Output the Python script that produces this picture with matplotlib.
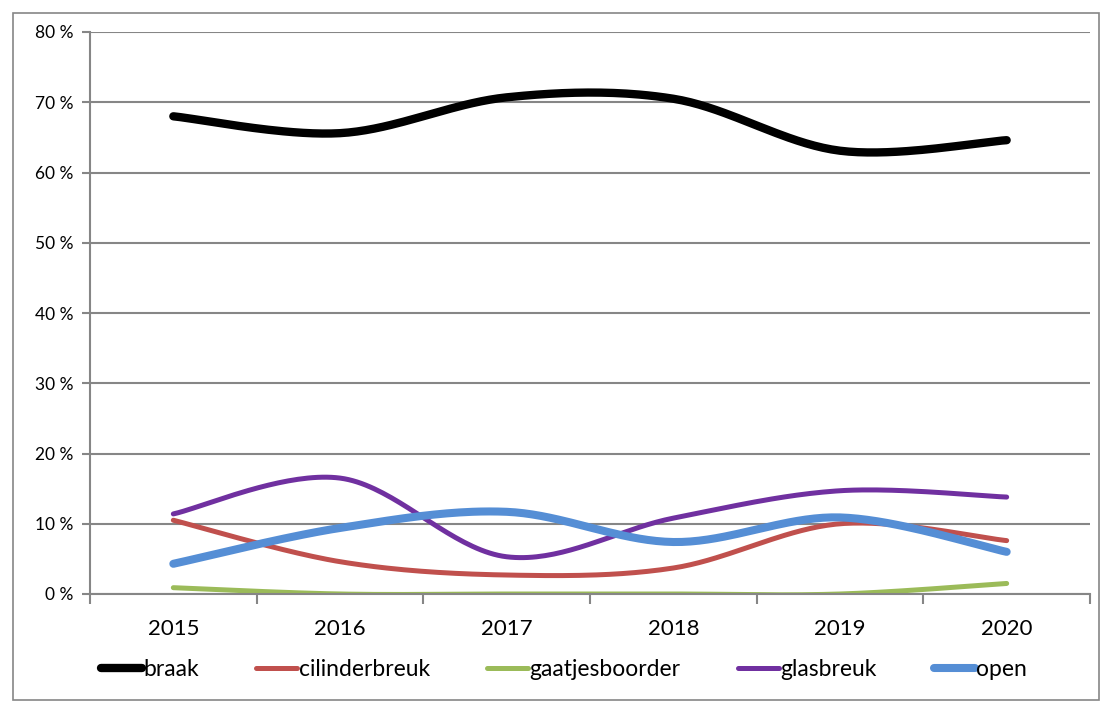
import numpy as np
import matplotlib.pyplot as plt
from matplotlib.patches import Rectangle

plt.rcParams['font.family'] = ['Lato', 'DejaVu Sans']

years = ["2015", "2016", "2017", "2018", "2019", "2020"]
braak = [68.0, 65.6, 70.7, 70.5, 63.1, 64.6]
cilinderbreuk = [10.5, 4.6, 2.7, 3.7, 10.0, 7.6]
gaatjesboorder = [0.9, 0.0, 0.0, 0.0, 0.0, 1.5]
glasbreuk = [11.4, 16.5, 5.3, 10.8, 14.7, 13.8]
open_ = [4.3, 9.4, 11.7, 7.4, 10.9, 6.0]

series = [
    ("braak", braak, "#000000", 6.0),
    ("cilinderbreuk", cilinderbreuk, "#C0504D", 3.6),
    ("gaatjesboorder", gaatjesboorder, "#9BBB59", 3.6),
    ("glasbreuk", glasbreuk, "#7030A0", 3.6),
    ("open", open_, "#558ED5", 5.8),
]


def smooth(y, n=40):
    # excel style smoothing: bezier with catmull-rom control points
    y = np.asarray(y, float)
    x = np.arange(len(y), dtype=float)
    xs, ys = [], []
    for i in range(len(y) - 1):
        p0 = (x[max(i - 1, 0)], y[max(i - 1, 0)])
        p1 = (x[i], y[i])
        p2 = (x[i + 1], y[i + 1])
        p3 = (x[min(i + 2, len(y) - 1)], y[min(i + 2, len(y) - 1)])
        c1 = (p1[0] + (p2[0] - p0[0]) / 6, p1[1] + (p2[1] - p0[1]) / 6)
        c2 = (p2[0] - (p3[0] - p1[0]) / 6, p2[1] - (p3[1] - p1[1]) / 6)
        t = np.linspace(0, 1, n)
        bx = (1-t)**3*p1[0] + 3*(1-t)**2*t*c1[0] + 3*(1-t)*t**2*c2[0] + t**3*p2[0]
        by = (1-t)**3*p1[1] + 3*(1-t)**2*t*c1[1] + 3*(1-t)*t**2*c2[1] + t**3*p2[1]
        xs.append(bx)
        ys.append(by)
    return np.concatenate(xs), np.concatenate(ys)


fig = plt.figure(figsize=(11.06, 7.02), dpi=100)
ax = fig.add_axes([90/1106, 1-594/702, 1000/1106, 562/702])

for name, vals, col, lw in series:
    sx, sy = smooth(vals)
    ax.plot(sx, sy, color=col, lw=lw, solid_capstyle='round', label=name)

ax.set_xlim(-0.5, 5.5)
ax.set_ylim(0, 80)
ax.set_yticks(np.arange(0, 81, 10))
ax.set_yticklabels(["%d %%" % v for v in range(0, 81, 10)], fontsize=12.5)
ax.set_xticks(np.arange(6))
ax.set_xticklabels(years, fontsize=16)
ax.set_xticks(np.arange(-0.5, 6, 1), minor=True)
ax.tick_params(axis='x', which='major', length=0, pad=18)
ax.tick_params(axis='x', which='minor', length=7, color='#868686', width=1.5)
ax.tick_params(axis='y', length=6, color='#868686', width=1.5, pad=6)
ax.yaxis.grid(True, color='#868686', lw=1.5)
ax.set_axisbelow(True)
for s in ['top', 'right']:
    ax.spines[s].set_visible(False)
for s in ['left', 'bottom']:
    ax.spines[s].set_color('#868686')
    ax.spines[s].set_linewidth(1.5)

fig.legend(loc='center', bbox_to_anchor=(564/1106, 1-670/702), ncol=5, frameon=False,
           fontsize=16.5, handlelength=1.8, handletextpad=0.05, columnspacing=2.5)

fig.patches.append(Rectangle((13/1106, 2/702), 1086/1106, 687/702, transform=fig.transFigure,
                             fill=False, edgecolor='#868686', lw=1.2))

fig.savefig("out.png", dpi=100)
